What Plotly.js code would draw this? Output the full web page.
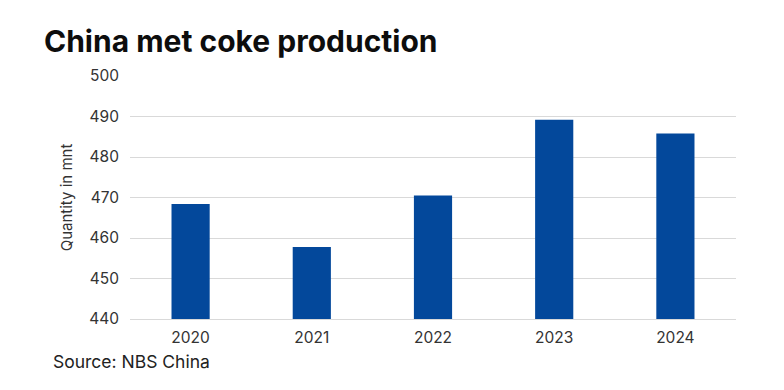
<!DOCTYPE html>
<html>
<head>
<meta charset="utf-8">
<script src="https://cdn.plot.ly/plotly-3.0.1.min.js"></script>
<style>
html,body{margin:0;padding:0;background:#fff;}
#chart{width:784px;height:390px;}
</style>
</head>
<body>
<div id="chart"></div>
<script>
const years = ["2020", "2021", "2022", "2023", "2024"];
const production = [468.4, 457.8, 470.5, 489.2, 485.8];
const yTicks = [440, 450, 460, 470, 480, 490, 500];

const trace = {
  type: "bar",
  x: years,
  y: production,
  marker: {color: "#03489b"},
  hoverinfo: "x+y"
};

const layout = {
  width: 784,
  height: 390,
  margin: {l: 130, r: 48, t: 76, b: 71},
  paper_bgcolor: "#ffffff",
  plot_bgcolor: "#ffffff",
  bargap: 0.685,
  showlegend: false,
  font: {family: "Inter, 'Liberation Sans', Arial, sans-serif", color: "#333333", size: 15},
  title: {
    text: "<b>China met coke production</b>",
    font: {family: "Inter, 'Liberation Sans', Arial, sans-serif", size: 30, color: "#0d0d0d", weight: 800},
    x: 44 / 784, xref: "container", xanchor: "left",
    y: 1 - 41 / 390, yref: "container", yanchor: "middle"
  },
  xaxis: {
    type: "category",
    tickfont: {size: 15.5, color: "#333333"},
    showgrid: false,
    showline: true,
    linecolor: "#d9d9d9",
    linewidth: 1,
    ticks: "",
    ticklabelstandoff: 4
  },
  yaxis: {
    range: [440, 500],
    tickvals: yTicks,
    ticktext: yTicks.map(String),
    tickfont: {size: 15.5, color: "#333333"},
    showgrid: true,
    gridcolor: "#d9d9d9",
    gridwidth: 1,
    zeroline: false,
    showline: false,
    ticks: "",
    ticklabelstandoff: 10,
    title: {text: "Quantity in mnt", font: {size: 15, color: "#333333"}, standoff: 12}
  },
  annotations: [{
    text: "Source: NBS China",
    xref: "paper", yref: "paper",
    x: -0.13, y: -0.175,
    xanchor: "left", yanchor: "middle",
    showarrow: false,
    font: {size: 17.5, color: "#222222"}
  }]
};

Plotly.newPlot("chart", [trace], layout, {displayModeBar: false, staticPlot: true});
</script>
</body>
</html>
